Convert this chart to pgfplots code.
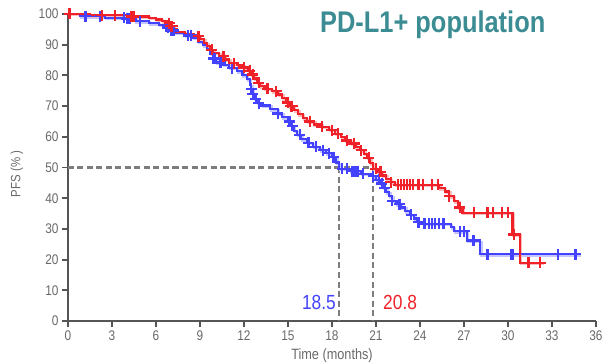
\documentclass[border=0pt]{standalone}
\usepackage{fontspec}
\setmainfont[FakeStretch=0.85]{Liberation Sans}
\usepackage{pgfplots}
\usepackage{pgfplotstable}
\pgfplotsset{compat=1.18}
\definecolor{kmred}{RGB}{238,34,40}
\definecolor{kmblue}{RGB}{66,66,255}
\definecolor{ttl}{RGB}{60,140,148}
\definecolor{axgray}{RGB}{85,85,85}
\definecolor{txtgray}{RGB}{105,105,105}
\definecolor{dashgray}{RGB}{125,125,125}

\pgfplotstableread{
t s
0 100
1.5 99.6
4.0 99.2
5.5 98.8
6.0 98.2
6.4 97.6
6.8 97.0
7.0 96.0
7.2 95.0
7.4 94.2
8.0 93.6
8.6 92.8
9.0 91.8
9.3 90.6
9.5 89.5
9.7 88.3
9.9 87.3
10.3 86.3
10.7 85.2
11.0 84.0
11.5 83.3
12.0 82.6
12.3 81.5
12.5 80.3
12.7 79.0
12.9 77.6
13.1 76.5
13.4 75.6
13.9 74.8
14.3 73.8
14.6 72.6
14.9 71.2
15.1 70.0
15.4 68.6
15.7 67.3
16.0 66.0
16.3 65.0
16.8 64.0
17.3 63.2
17.8 62.2
18.2 61.0
18.6 60.0
18.9 58.8
19.3 57.8
19.6 56.6
19.9 55.6
20.2 54.4
20.4 53.2
20.6 51.4
20.8 49.6
21.1 48.6
21.4 47.4
21.7 46.2
22.0 45.2
22.3 44.3
25.3 43.2
25.7 42.2
26.0 40.6
26.3 39.0
26.6 37.0
26.9 35.2
30.3 28.2
30.8 19.0
32.4 19.0
}\redcurve

\pgfplotstableread{
t s
0.1 100
2.3 99.6
3.2 99.6
4.3 99.2
4.4 99.2
4.5 99.2
6.9 97.0
7.0 96.0
7.1 96.0
8.9 92.8
9.8 88.3
10.6 86.3
11.3 84.0
12.0 82.6
12.4 81.5
12.6 80.3
13.0 77.6
13.6 75.6
14.2 74.8
15.0 71.2
15.2 70.0
15.3 70.0
16.5 65.0
17.3 63.2
18.0 62.2
18.4 61.0
19.0 58.8
19.5 57.8
20.0 55.6
20.5 53.2
21.0 49.6
21.3 48.6
22.0 45.2
22.5 44.3
22.7 44.3
22.9 44.3
23.1 44.3
23.3 44.3
23.5 44.3
23.9 44.3
24.2 44.3
24.8 44.3
25.2 44.3
26.0 40.6
26.7 37.0
27.7 35.2
28.6 35.2
29.0 35.2
29.6 35.2
30.0 35.2
30.4 28.2
31.4 19.0
32.2 19.0
}\redmarks

\pgfplotstableread{
t s
0 100
0.8 99.3
2.5 98.8
4.0 98.4
4.6 97.6
5.5 97.0
6.2 96.4
6.8 95.6
7.0 94.6
7.3 94.0
8.0 93.0
8.5 92.2
8.9 91.0
9.2 89.8
9.5 88.6
9.7 87.0
9.9 85.5
10.1 84.2
10.6 83.4
11.0 82.4
11.5 81.4
11.9 80.0
12.2 78.8
12.4 77.0
12.5 75.6
12.6 74.0
12.7 72.4
12.9 71.0
13.2 70.2
13.8 69.0
14.3 67.6
14.6 66.4
15.0 65.0
15.2 63.6
15.4 62.0
15.6 60.6
15.9 59.2
16.3 58.0
16.7 56.8
17.2 55.6
17.6 54.6
18.0 53.4
18.3 51.6
18.5 49.6
19.2 48.8
20.0 48.0
20.7 47.2
21.0 46.0
21.3 44.8
21.5 43.4
21.7 42.0
21.9 40.6
22.1 39.2
22.4 38.0
22.7 37.0
23.0 35.8
23.3 34.6
23.6 33.4
23.8 32.2
24.2 31.6
26.1 30.6
26.3 29.2
27.2 26.2
28.1 21.7
34.9 21.7
}\bluecurve

\pgfplotstableread{
t s
1.2 99.3
2.2 99.3
3.8 98.8
4.0 98.4
4.2 98.4
4.9 97.6
6.8 95.6
7.0 94.6
7.2 94.6
8.2 93.0
8.4 93.0
9.9 85.5
10.0 85.5
10.4 84.2
11.2 82.4
12.5 75.6
12.6 74.0
12.8 72.4
13.0 71.0
14.3 67.6
15.1 65.0
15.3 63.6
15.8 60.6
16.4 58.0
16.9 56.8
17.4 55.6
17.8 54.6
18.1 53.4
18.7 49.6
19.0 49.6
19.4 48.8
19.6 48.8
19.8 48.8
20.1 48.0
20.8 47.2
21.2 46.0
21.4 44.8
21.6 43.4
22.1 39.2
22.6 38.0
23.4 34.6
23.9 32.2
24.3 31.6
24.6 31.6
24.8 31.6
25.0 31.6
25.3 31.6
25.6 31.6
26.7 29.2
27.0 29.2
27.6 26.2
27.7 26.2
28.6 21.7
30.2 21.7
30.3 21.7
33.4 21.7
34.6 21.7
}\bluemarks

\begin{document}
\begin{tikzpicture}
\begin{axis}[
  at={(0,0)}, anchor=south west,
  scale only axis, width=528bp, height=307bp,
  xmin=0, xmax=36, ymin=0, ymax=100,
  axis lines=left,
  axis line style={axgray, line width=2.4bp, -},
  xtick={0,3,...,36}, ytick={0,10,...,100},
  tick align=outside, major tick length=6bp,
  tick style={axgray, line width=1.8bp},
  ticklabel style={font=\fontsize{14}{14}\selectfont, text=txtgray},
  /pgf/number format/assume math mode=true,
  clip=false,
]
\addplot[dashgray, line width=2.2bp, dash pattern=on 6bp off 3.5bp] coordinates {(0,50) (20.8,50)};
\addplot[dashgray, line width=2.2bp, dash pattern=on 6bp off 3.5bp] coordinates {(18.5,50) (18.5,0)};
\addplot[dashgray, line width=2.2bp, dash pattern=on 6bp off 3.5bp] coordinates {(20.8,50) (20.8,0)};

\addplot[kmblue!30, line width=2.5bp, const plot, xshift=1.2bp, yshift=-1.2bp] table {\bluecurve};
\addplot[kmred!30, line width=2.5bp, const plot, xshift=1.2bp, yshift=-1.2bp] table {\redcurve};
\addplot[kmblue, line width=2.2bp, const plot] table {\bluecurve};
\addplot[kmred, line width=2.2bp, const plot] table {\redcurve};
\addplot[kmblue, only marks, mark=+, mark size=5.5bp, mark options={line width=2.2bp}] table {\bluemarks};
\addplot[kmred, only marks, mark=+, mark size=5.5bp, mark options={line width=2.2bp}] table {\redmarks};
\end{axis}
\node[anchor=base west, text=ttl, font=\fontsize{30}{30}\selectfont\bfseries, inner sep=0pt] at (252bp,288bp) {PD-L1+ population};
\node[anchor=base, text=txtgray, font=\fontsize{15}{15}\selectfont, inner sep=0pt] at (264bp,-38bp) {Time (months)};
\node[anchor=center, rotate=90, text=txtgray, font=\fontsize{13.5}{13.5}\selectfont, inner sep=0pt] at (-51bp,147bp) {PFS (\% )};
\node[anchor=base east, text=kmblue, font=\fontsize{20.5}{20.5}\selectfont, inner sep=0pt] at (268bp,12bp) {18.5};
\node[anchor=base west, text=kmred, font=\fontsize{20.5}{20.5}\selectfont, inner sep=0pt] at (315bp,12bp) {20.8};
\pgfresetboundingbox
\path[use as bounding box] (-68bp,-43bp) rectangle (543bp,321bp);
\end{tikzpicture}
\end{document}
